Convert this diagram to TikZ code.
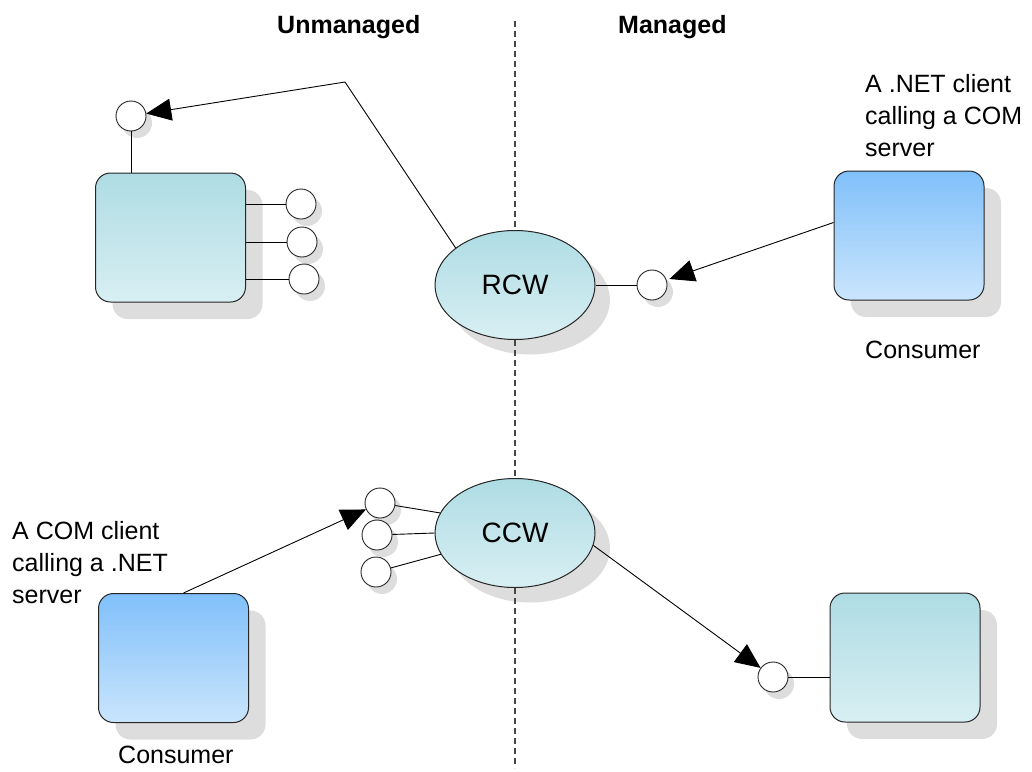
\documentclass[tikz,border=0pt]{standalone}
\usepackage{fontspec}
\setmainfont{Liberation Sans}
\usetikzlibrary{shapes.geometric,shadows,arrows.meta,calc}
\definecolor{srvtop}{RGB}{174,220,227}
\definecolor{srvbot}{RGB}{216,239,243}
\definecolor{constop}{RGB}{128,192,250}
\definecolor{consbot}{RGB}{202,229,252}
\definecolor{shadowgray}{RGB}{221,221,221}
\definecolor{dashgray}{RGB}{70,70,70}
\begin{document}
\begin{tikzpicture}[x=1pt,y=-1pt,
  box/.style={draw=black!85, line width=1pt, rounded corners=15pt,
    minimum width=150pt, minimum height=129pt, inner sep=0pt,
    general shadow={fill=shadowgray, shadow xshift=17pt, shadow yshift=-17pt}},
  srvbox/.style={box, top color=srvtop, bottom color=srvbot},
  consbox/.style={box, top color=constop, bottom color=consbot},
  wrapper/.style={ellipse, draw=black!85, line width=1pt, minimum width=160pt,
    minimum height=109pt, inner sep=0pt, top color=srvtop, bottom color=srvbot,
    font=\fontsize{28}{34}\selectfont,
    general shadow={fill=shadowgray, shadow xshift=15pt, shadow yshift=-15pt}},
  port/.style={circle, draw=black!85, line width=0.9pt, fill=white,
    minimum size=30pt, inner sep=0pt,
    general shadow={fill=shadowgray, shadow xshift=6pt, shadow yshift=-7pt}},
  conn/.style={line width=0.9pt, black},
  arr/.style={conn, -{Triangle[length=25pt,width=22pt]}},
  divider/.style={dashgray, line width=1.3pt, dash pattern=on 6pt off 4pt},
  lbl/.style={font=\fontsize{25}{32}\selectfont, inner sep=0pt, align=left},
  head/.style={font=\fontsize{25}{30}\selectfont\bfseries, inner sep=0pt}
]
\useasboundingbox (0,0) rectangle (1032,771);

% headers
\node[head, anchor=base west] (hU) at (277,33) {Unmanaged};
\node[head, anchor=base west] (hM) at (618,33) {Managed};

% boxes
\node[srvbox] (srv1) at (170.5,237.5) {};
\node[consbox] (cons1) at (909,235.5) {};
\node[consbox] (cons2) at (173.5,658) {};
\node[srvbox] (srv2) at (905,657.5) {};

% wrappers
\node[wrapper] (rcw) at (515,285) {RCW};
\node[wrapper] (ccw) at (515,533) {CCW};

% ports
\node[port] (ptop) at (131,116) {};
\node[port] (s1) at (301,204) {};
\node[port] (s2) at (302,242) {};
\node[port] (s3) at (304,279) {};
\node[port] (prcw) at (652,285) {};
\node[port] (cc1) at (380,503) {};
\node[port] (cc2) at (377,535) {};
\node[port] (cc3) at (376,572) {};
\node[port] (psrv2) at (773,677) {};

% labels
\node[lbl, anchor=north west] (t1) at (865,74) {A .NET client\\calling a COM\\server};
\node[lbl, anchor=base west] (c1) at (865,358) {Consumer};
\node[lbl, anchor=north west] (t2) at (12,521) {A COM client\\calling a .NET\\server};
\node[lbl, anchor=base west] (c2) at (118,763) {Consumer};

% divider
\coordinate (dtop) at (515,21);
\coordinate (dbot) at (515,768);
\draw[divider] (dtop) -- (rcw.north);
\draw[divider] (rcw.south) -- (ccw.north);
\draw[divider] (ccw.south) -- (dbot);

% connectors
\coordinate (bend) at (345,82);
\draw[arr] (rcw.148) -- (bend) -- (ptop);
\draw[conn] (ptop) -- (ptop |- srv1.north);
\draw[conn] (s1 -| srv1.east) -- (s1);
\draw[conn] (s2 -| srv1.east) -- (s2);
\draw[conn] (s3 -| srv1.east) -- (s3);
\draw[conn] (rcw.east) -- (prcw);
\draw[arr, shorten >=3pt] ([yshift=13pt]cons1.west) -- (prcw);

\draw[conn] (cc1) -- (ccw.165);
\draw[conn] (cc2) -- (ccw.west);
\draw[conn] (cc3) -- (ccw.196);
\draw[arr] ([xshift=10pt]cons2.north) -- (cc1);
\draw[arr] (ccw.-9) -- (psrv2);
\draw[conn] (psrv2) -- (psrv2 -| srv2.west);
\end{tikzpicture}
\end{document}
